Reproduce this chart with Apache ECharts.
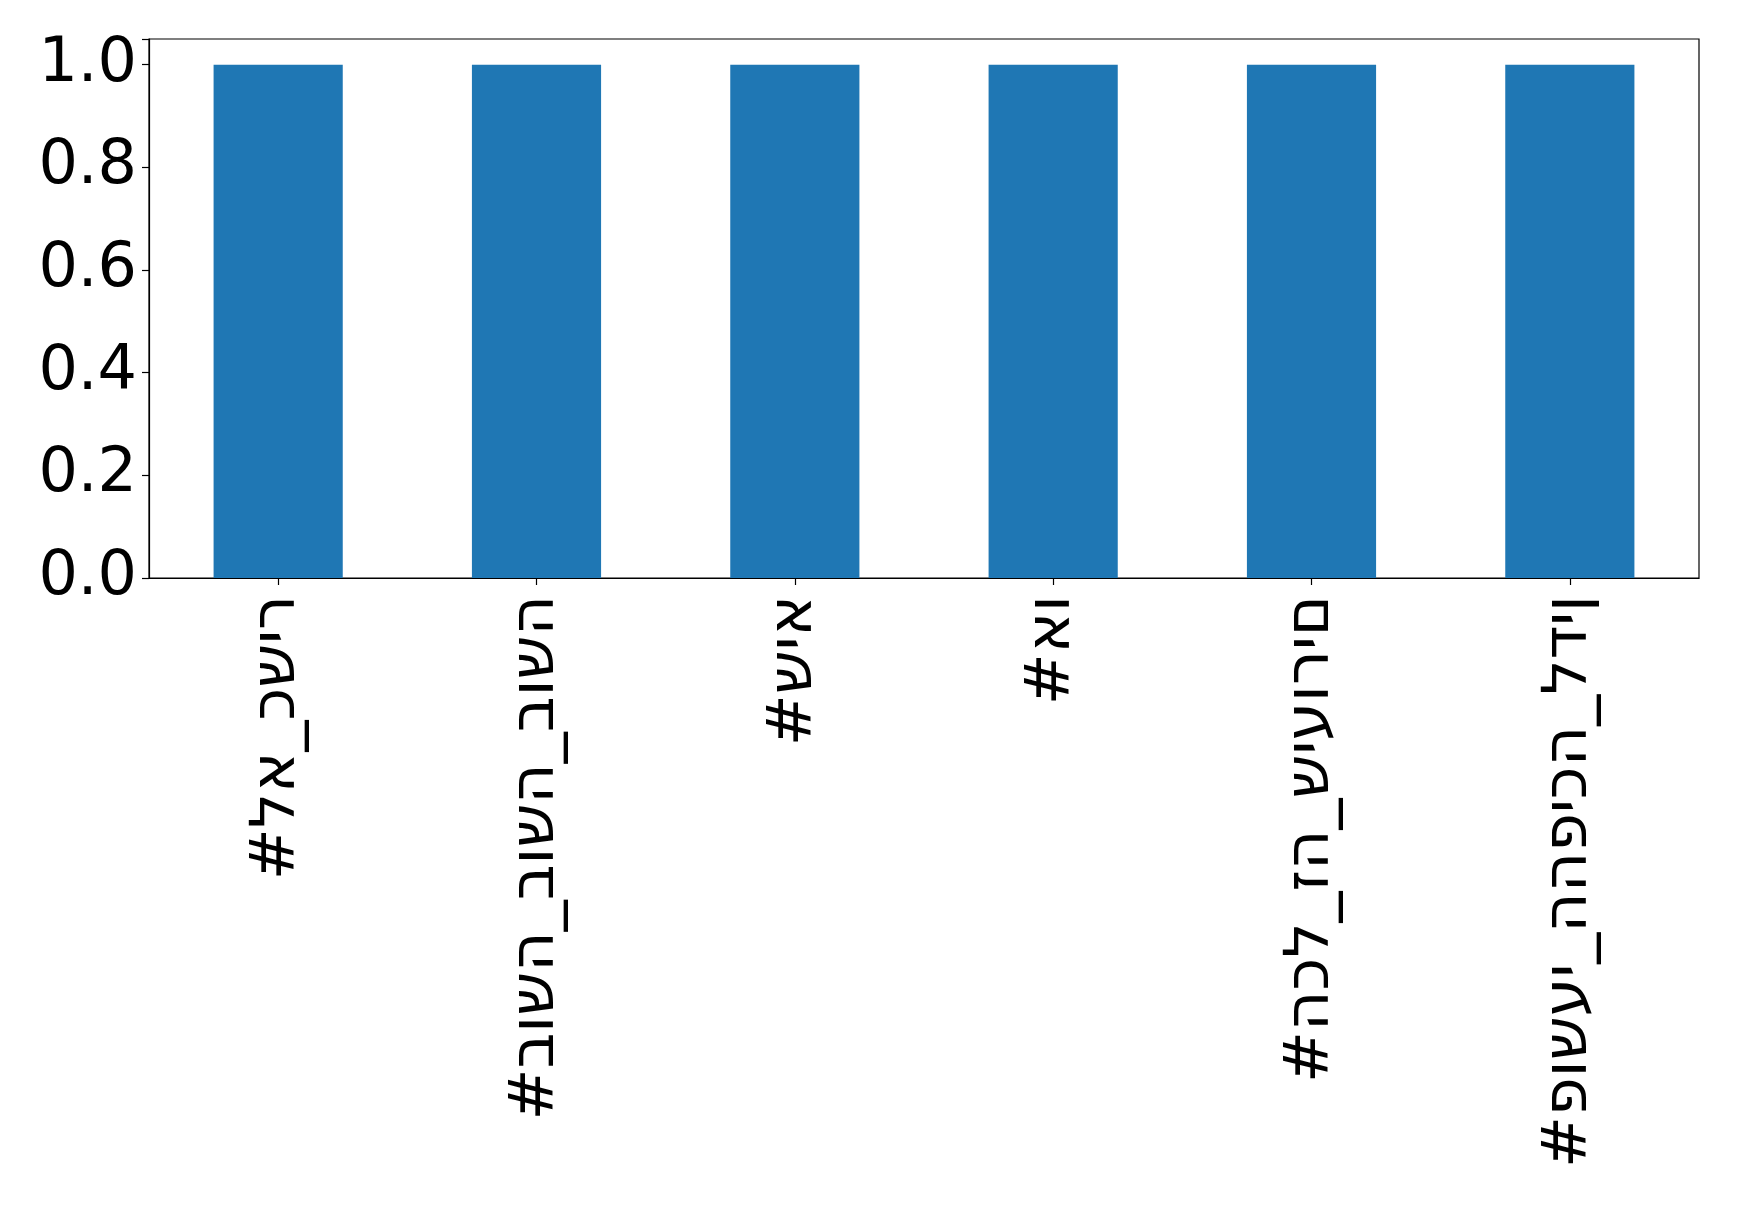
<!DOCTYPE html>
<html>
<head>
<meta charset="utf-8">
<script src="https://cdn.jsdelivr.net/npm/echarts@6/dist/echarts.min.js"></script>
<style>
html,body{margin:0;padding:0;background:#fff;}
#chart{width:1739px;height:1205px;}
</style>
</head>
<body>
<div id="chart"></div>
<script>
const categories = ["#לא_כשיר", "#בושה_בושה_בושה", "#שיא", "#או", "#הכל_זה_שיעורים", "#פושעי_ההפיכה_לדין"];
const values = [1, 1, 1, 1, 1, 1];
const yTicks = [0, 0.2, 0.4, 0.6, 0.8, 1.0];

const chart = echarts.init(document.getElementById('chart'), null, {renderer: 'canvas'});
const FONT = 'DejaVu Sans';
chart.setOption({
  animation: false,
  backgroundColor: '#ffffff',
  grid: {left: 149, right: 40, top: 39, bottom: 627, show: true, borderColor: '#000', borderWidth: 1.2, backgroundColor: 'transparent'},
  xAxis: {
    type: 'category',
    data: categories,
    axisLine: {show: true, lineStyle: {color: '#000', width: 1.2}},
    axisTick: {show: true, alignWithLabel: true, length: 7, lineStyle: {color: '#000', width: 1.2}},
    axisLabel: {
      rotate: 90, interval: 0, margin: 17, color: '#000', fontFamily: FONT, fontSize: 62,
      formatter: v => '\u202D' + v + '\u202C'
    },
    splitLine: {show: false}
  },
  yAxis: {
    type: 'value', min: 0, max: 1.05, interval: 0.2,
    axisLine: {show: true, lineStyle: {color: '#000', width: 1.2}},
    axisTick: {show: true, length: 7, lineStyle: {color: '#000', width: 1.2}},
    axisLabel: {
      margin: 12, color: '#000', fontFamily: FONT, fontSize: 62,
      formatter: v => (yTicks.some(t => Math.abs(t - v) < 1e-9) ? v.toFixed(1) : '')
    },
    splitLine: {show: false}
  },
  series: [{
    type: 'bar',
    data: values,
    barWidth: '50%',
    itemStyle: {color: '#1f77b4'}
  }]
});
</script>
</body>
</html>
